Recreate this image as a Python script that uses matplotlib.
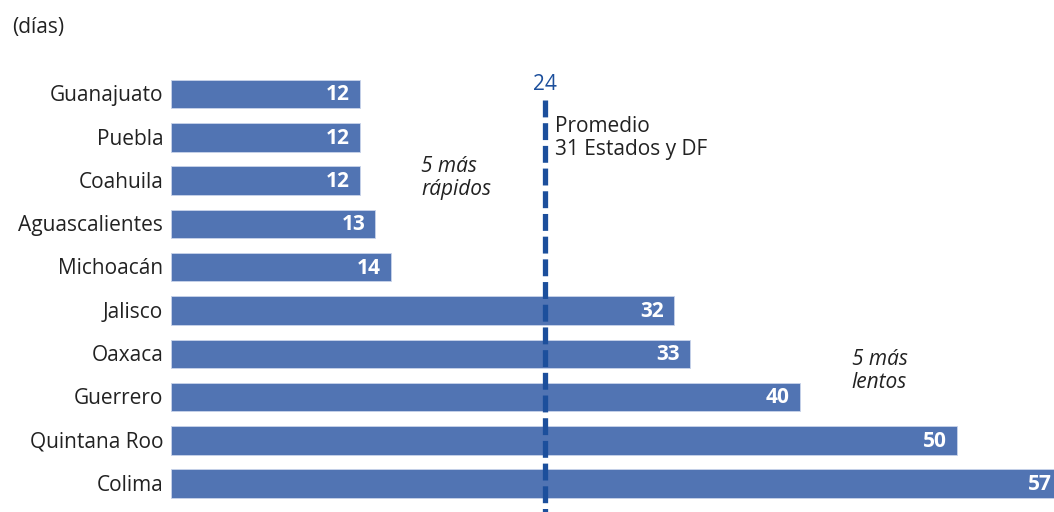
import matplotlib
matplotlib.use("Agg")
import matplotlib.pyplot as plt

estados = ["Guanajuato", "Puebla", "Coahuila", "Aguascalientes", "Michoacán",
           "Jalisco", "Oaxaca", "Guerrero", "Quintana Roo", "Colima"]
dias = [12, 12, 12, 13, 14, 32, 33, 40, 50, 57]
promedio = 24

plt.rcParams['font.family'] = ['Open Sans', 'DejaVu Sans']

W, H = 1054, 512
fig = plt.figure(figsize=(W / 100, H / 100), dpi=100)
ax = fig.add_axes([171 / W, 0, 1 - 171 / W, 1])

bar_color = "#5174b3"
line_color = "#1c4f9c"
ys = list(range(len(estados)))
ax.barh(ys, dias, height=0.66, color=bar_color, edgecolor="#c9d4ea", linewidth=0.6)

row = 43.3
ax.set_ylim((H - 94) / row, -94 / row)
ax.set_xlim(0, (W - 171) / 15.72)
ax.axis("off")

xmax = ax.get_xlim()[1]
for y, v, name in zip(ys, dias, estados):
    xr = v - 0.65 if v - 0.65 < xmax - 0.1 else xmax - 0.12
    ax.text(xr, y + 0.02, str(v), ha="right", va="center", color="white",
            fontsize=15, fontweight="bold")
    ax.text(-0.5, y + 0.04, name, ha="right", va="center", color="#222222",
            fontsize=15, clip_on=False)

ax.plot([promedio - 0.2, promedio - 0.2], [(100 - 94) / row, (H - 94) / row],
        color=line_color, lw=3.8, linestyle=(0, (3.2, 1.1)),
        solid_capstyle="butt", dash_capstyle="butt")
ax.text(promedio - 0.2, (85 - 94) / row, str(promedio), ha="center", va="center",
        color=line_color, fontsize=15)
ax.text(promedio + 0.4, (138 - 94) / row, "Promedio\n31 Estados y DF", ha="left",
        va="center", color="#222222", fontsize=15, linespacing=1.1)
ax.text(15.9, (178 - 94) / row, "5 más\nrápidos", ha="left", va="center",
        color="#222222", fontsize=15, style="italic", linespacing=1.1)
ax.text(43.3, (371 - 94) / row, "5 más\nlentos", ha="left", va="center",
        color="#222222", fontsize=15, style="italic", linespacing=1.1)

fig.text(12 / W, 1 - 28 / H, "(días)", ha="left", va="center", color="#222222",
         fontsize=15)

fig.savefig("out.png", dpi=100, facecolor="white")
